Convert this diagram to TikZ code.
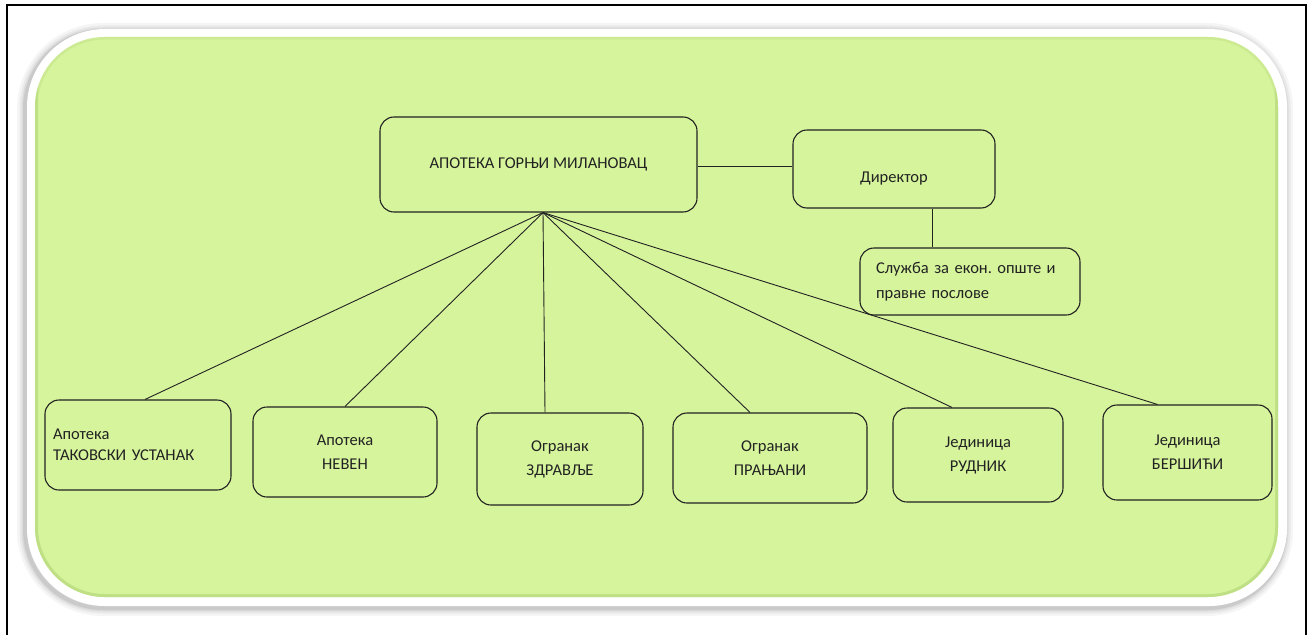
\documentclass[tikz,border=0pt]{standalone}
\usepackage{fontspec}
\setmainfont{Carlito}
\usetikzlibrary{positioning}
\frenchspacing
\definecolor{panel}{RGB}{214,244,156}
\definecolor{panelrim}{RGB}{178,214,120}
\definecolor{ink}{RGB}{34,34,34}

\begin{document}
\begin{tikzpicture}[x=1pt, y=-1pt,
      font=\fontsize{16.5}{24}\selectfont,
      box/.style={draw=ink, line width=1.1pt, rounded corners=14pt, align=center, inner sep=4pt, text=ink},
      unit/.style={box, minimum height=92},
      ln/.style={draw=ink, line width=0.9pt}]
    \useasboundingbox (0,0) rectangle (1313,634);
    % frame
    \draw[line width=2pt] (7,640) -- (7,5) -- (1306,5) -- (1306,640);
    % panel with white rim and soft shadow
    \foreach \w/\o in {16/0.04,11/0.05,7/0.06,4/0.08}
      \draw[black, opacity=\o, line width=\w pt, rounded corners=78] (25,31) rectangle (1285,608);
    \fill[white, rounded corners=78] (27,29) rectangle (1287,606);
    \fill[panel, rounded corners=70] (35,37) rectangle (1278,597);
    \begin{scope}
      \clip[rounded corners=70] (35,37) rectangle (1278,597);
      \draw[panelrim, opacity=0.3, line width=5pt, rounded corners=70] (35,37) rectangle (1278,597);
      \draw[panelrim, opacity=0.5, line width=6pt, rounded corners=70] (35,37) -- (35,597) -- (1278,597) -- (1278,37);
    \end{scope}
    % nodes
    \node[box, minimum width=317, minimum height=95] (top) at (538.5,164.5) {АПОТЕКА ГОРЊИ МИЛАНОВАЦ};
    \node[box, minimum width=202, minimum height=78, text height=3em] (dir) at (894,169) {Директор};
    \node[box, align=left, text width=188, minimum width=220, minimum height=67,
          font=\fontsize{16.5}{25}\selectfont] (srv) at (970,281.5) {Служба за екон. опште и\\правне послове};
    \node[unit, align=left, text width=170, minimum width=186, minimum height=90,
          font=\fontsize{16.5}{21}\selectfont] (tak) at (138,445) {Апотека\\ТАКОВСКИ УСТАНАК};
    \node[unit, minimum width=184, minimum height=90] (nev) at (345,452) {Апотека\\НЕВЕН};
    \node[unit, minimum width=166] (zdr) at (560,459) {Огранак\\ЗДРАВЉЕ};
    \node[unit, minimum width=194, minimum height=90] (pra) at (770,458) {Огранак\\ПРАЊАНИ};
    \node[unit, minimum width=170, minimum height=94] (rud) at (978,455) {Јединица\\РУДНИК};
    \node[unit, minimum width=169, minimum height=95] (ber) at (1187.5,452.5) {Јединица\\БЕРШИЋИ};
    % connectors
    \draw[ln] ([yshift=-1.5pt]top.east) -- ([yshift=-1.5pt]top.east -| dir.west);
    \draw[ln] ([xshift=38pt]dir.south) -- ([xshift=38pt]dir.south |- srv.north);
    \draw[ln] ([xshift=4.5pt]top.south) -- ([xshift=7pt]tak.north);
    \draw[ln] ([xshift=4.5pt]top.south) -- (nev.north);
    \draw[ln] ([xshift=4.5pt]top.south) -- ([xshift=-15pt]zdr.north);
    \draw[ln] ([xshift=4.5pt]top.south) -- ([xshift=-20pt]pra.north);
    \draw[ln] ([xshift=4.5pt]top.south) -- ([xshift=-26pt]rud.north);
    \draw[ln] ([xshift=4.5pt]top.south) -- ([xshift=-30pt]ber.north);
  \end{tikzpicture}
\end{document}
